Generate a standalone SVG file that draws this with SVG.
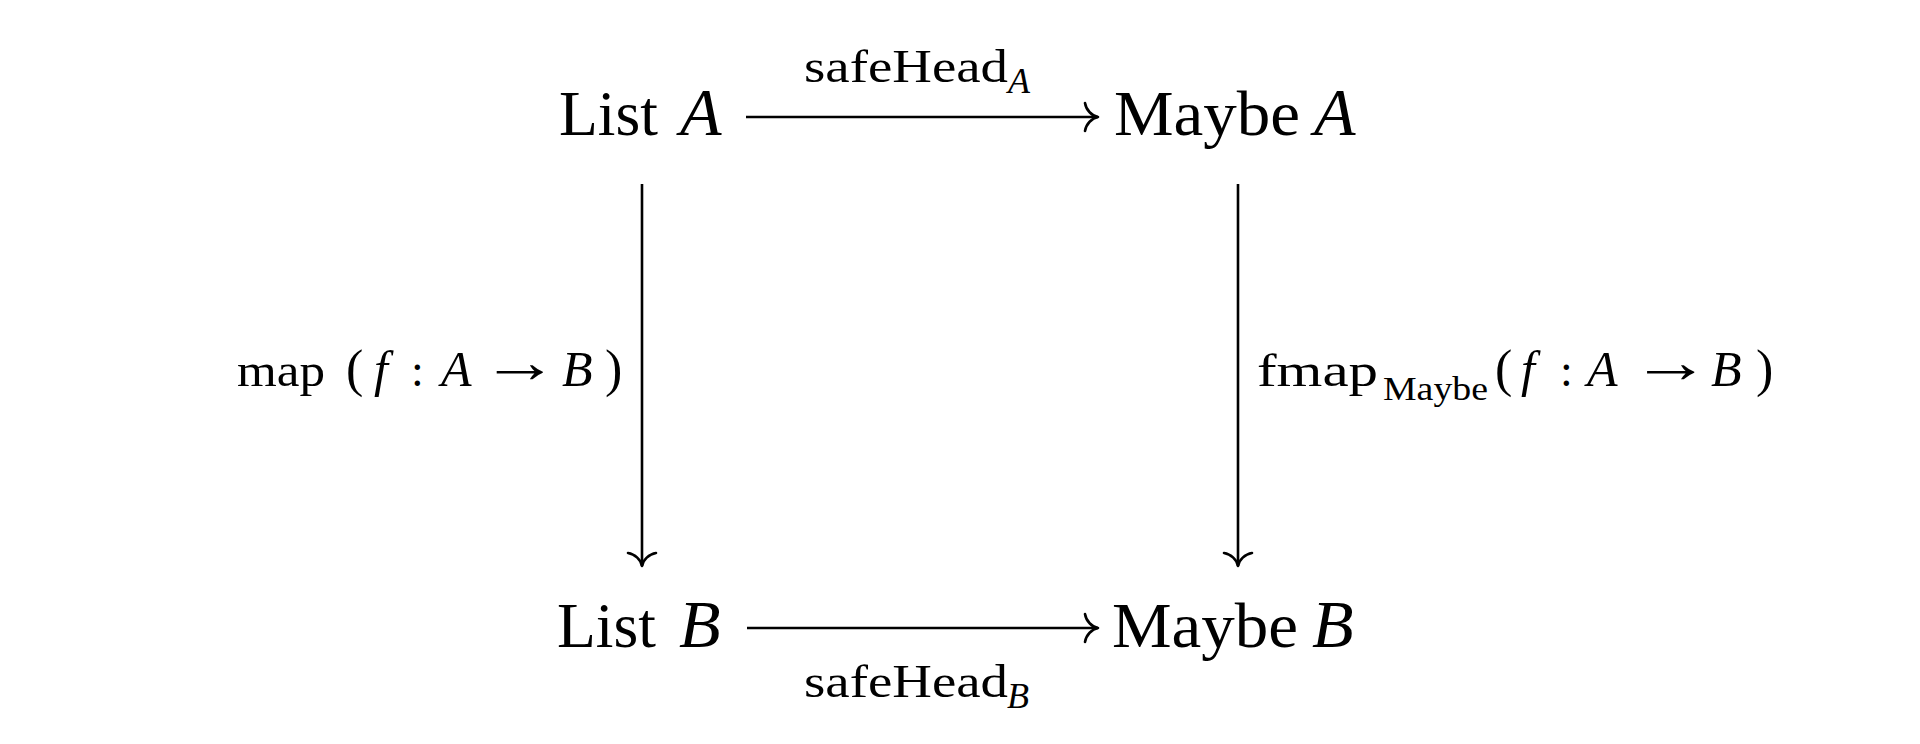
<svg xmlns="http://www.w3.org/2000/svg" width="1920" height="744" viewBox="0 0 1920 744">
<style>
text { font-family: "Liberation Serif", "Times New Roman", serif; fill: #000; }
.node { font-size: 64px; }
.nodei { font-size: 68px; font-style: italic; }
.lbl { font-size: 46px; }
.lbi { font-size: 50px; font-style: italic; }
.sub { font-size: 33px; }
.subi { font-size: 36px; font-style: italic; }
.paren { font-size: 52px; }
.arr { font-size: 60px; }
.edge { stroke: #000; stroke-width: 2.6; fill: none; marker-end: url(#to); }
</style>
<defs>
<marker id="to" markerUnits="userSpaceOnUse" viewBox="-16 -17 19 34" refX="0" refY="0" markerWidth="19" markerHeight="34" orient="auto" overflow="visible">
<path d="M -13,-14 C -12,-7 -6,-1 0,0 M -13,14 C -12,7 -6,1 0,0" stroke="#000" stroke-width="2.6" fill="none" stroke-linecap="round"/>
</marker>
</defs>
<rect x="0" y="0" width="1920" height="744" fill="#fff"/>

<g id="n-listA">
<text class="node" x="559" y="135" textLength="99" lengthAdjust="spacingAndGlyphs">List</text>
<text class="nodei" x="680" y="135">A</text>
</g>
<g id="n-maybeA">
<text class="node" x="1114" y="135" textLength="186" lengthAdjust="spacingAndGlyphs">Maybe</text>
<text class="nodei" x="1314" y="135">A</text>
</g>
<g id="n-listB">
<text class="node" x="557" y="647" textLength="99" lengthAdjust="spacingAndGlyphs">List</text>
<text class="nodei" x="679" y="647">B</text>
</g>
<g id="n-maybeB">
<text class="node" x="1112" y="647" textLength="186" lengthAdjust="spacingAndGlyphs">Maybe</text>
<text class="nodei" x="1312" y="647">B</text>
</g>

<g id="connectors">
<g id="e-top">
<line class="edge" x1="746" y1="117" x2="1098" y2="117"/>
<text class="lbl" x="804" y="82" textLength="204" lengthAdjust="spacingAndGlyphs">safeHead</text>
<text class="subi" x="1008" y="93">A</text>
</g>
<g id="e-bottom">
<line class="edge" x1="747" y1="628" x2="1098" y2="628"/>
<text class="lbl" x="804" y="697" textLength="204" lengthAdjust="spacingAndGlyphs">safeHead</text>
<text class="subi" x="1007" y="708">B</text>
</g>
<g id="e-left">
<line class="edge" x1="642" y1="184" x2="642" y2="566"/>
<text class="lbl" x="237" y="386" textLength="88" lengthAdjust="spacingAndGlyphs">map</text>
<text class="paren" x="346" y="386">(</text>
<text class="lbi" x="374" y="386">f</text>
<text class="lbl" x="411" y="386">:</text>
<text class="lbi" x="441" y="386">A</text>
<text class="arr" transform="translate(481,382) scale(1.3,1)" x="0" y="0">→</text>
<text class="lbi" x="562" y="386">B</text>
<text class="paren" x="605" y="386">)</text>
</g>
<g id="e-right">
<line class="edge" x1="1238" y1="184" x2="1238" y2="566"/>
<text class="lbl" x="1257" y="386" textLength="121" lengthAdjust="spacingAndGlyphs">fmap</text>
<text class="sub" x="1383" y="400" textLength="105" lengthAdjust="spacingAndGlyphs">Maybe</text>
<text class="paren" x="1495" y="386">(</text>
<text class="lbi" x="1521" y="386">f</text>
<text class="lbl" x="1560" y="386">:</text>
<text class="lbi" x="1587" y="386">A</text>
<text class="arr" transform="translate(1631,382) scale(1.33,1)" x="0" y="0">→</text>
<text class="lbi" x="1711" y="386">B</text>
<text class="paren" x="1756" y="386">)</text>
</g>
</g>
</svg>
